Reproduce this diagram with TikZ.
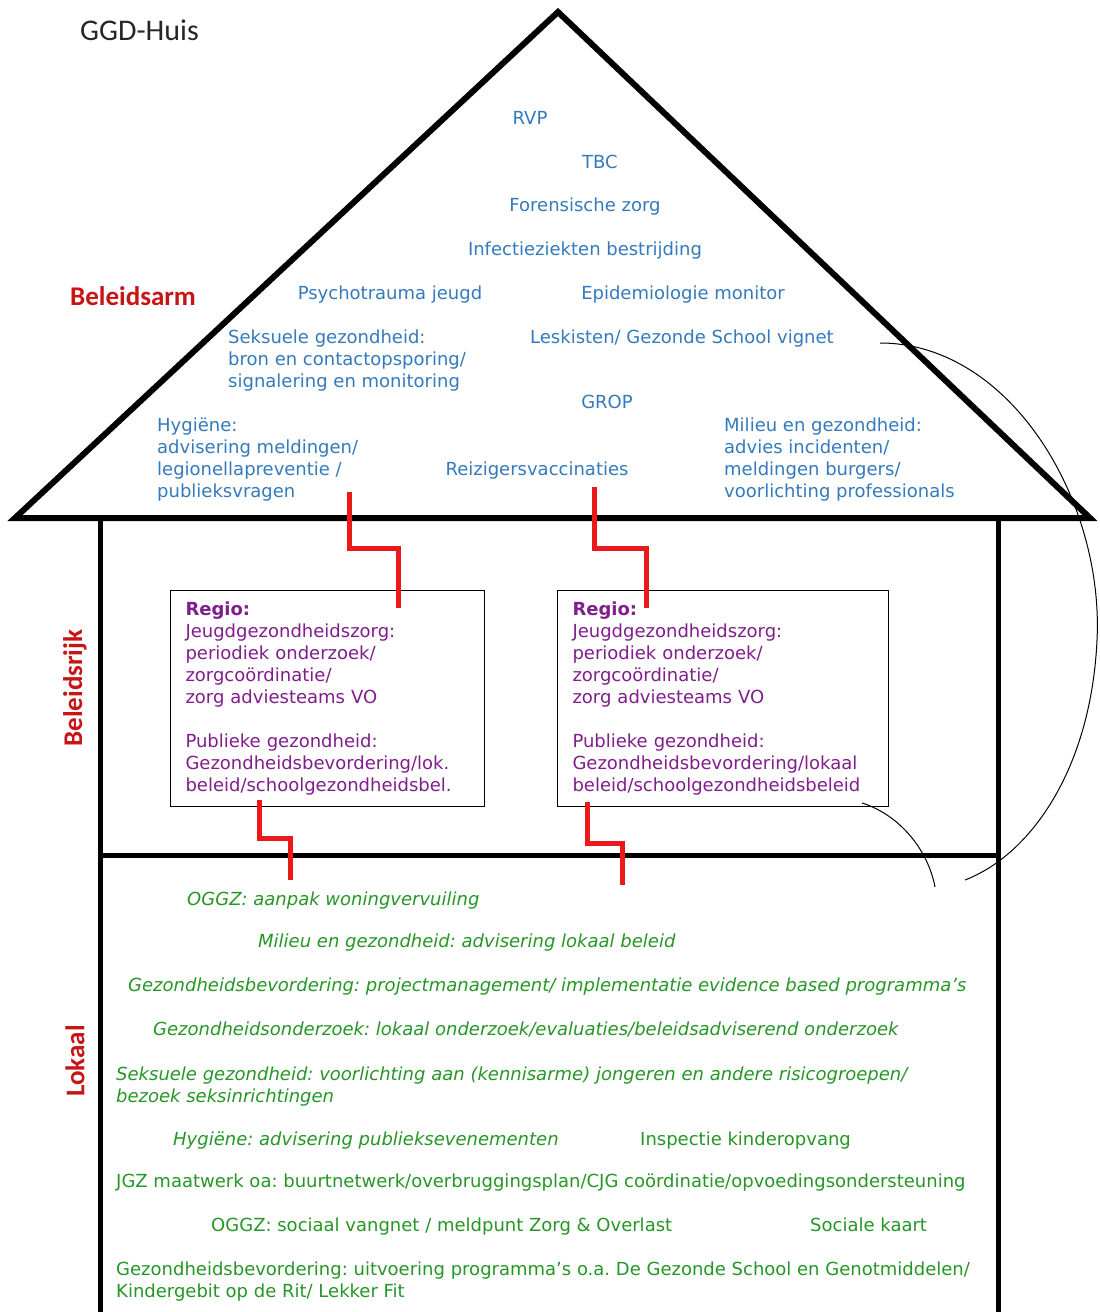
\documentclass[tikz,border=0pt]{standalone}
\usepackage{fontspec}
\setmainfont{DejaVu Sans}
\newfontfamily\labelfont{Carlito}
\usepackage{tikz}
\frenchspacing

\definecolor{roofblue}{RGB}{52,122,188}
\definecolor{regiopurple}{RGB}{128,30,140}
\definecolor{lokaalgreen}{RGB}{38,150,38}
\definecolor{layerred}{RGB}{200,20,20}
\definecolor{linkred}{RGB}{235,25,25}

\tikzset{
	wall/.style={line width=5pt},
	roofline/.style={line width=6pt, line join=miter},
	link/.style={draw=linkred, line width=5pt},
	bow/.style={line width=1pt},
	roof/.style={text=roofblue, inner sep=0pt, align=left, font=\fontsize{18}{22}\selectfont},
	lokaal/.style={text=lokaalgreen, inner sep=0pt, align=left, anchor=base west, font=\fontsize{18}{22}\selectfont},
	schuin/.style={lokaal, font=\fontsize{18}{22}\selectfont\itshape},
	layer/.style={text=layerred, inner sep=0pt, font=\labelfont\bfseries\fontsize{27}{27}\selectfont},
	regiobox/.style={draw, line width=1pt, anchor=north west, text=regiopurple, align=left,
		minimum width=314pt, minimum height=216pt, text width=284pt, inner xsep=15pt,
		font=\fontsize{18}{22}\selectfont},
}

\begin{document}
\begin{tikzpicture}[x=1pt, y=-1pt]

	\useasboundingbox[fill=white] (0,0) rectangle (1100,1312);

	% house
	\draw[roofline] (15,518) -- (558,12) -- (1090,518) -- cycle;
	\draw[wall] (100,518) -- (100,1312);
	\draw[wall] (998,518) -- (998,1312);
	\draw[wall] (100,855) -- (998,855);

	\node[anchor=base west, inner sep=0pt, font=\labelfont\fontsize{30}{30}\selectfont, text=black!85] (titel) at (80,40) {GGD-Huis};

	% layer labels
	\node[layer, anchor=base west] (arm) at (70,305) {Beleidsarm};
	\node[layer, rotate=90] (rijk) at (75,688) {Beleidsrijk};
	\node[layer, rotate=90] (lok) at (75,1061) {Lokaal};

	% roof (multi-line nodes: base = last line)
	\node[roof, anchor=base] (rvp) at (530,124) {RVP};
	\node[roof, anchor=base] (tbc) at (600,168) {TBC};
	\node[roof, anchor=base] (foren) at (585,211) {Forensische zorg};
	\node[roof, anchor=base] (infect) at (585,255) {Infectieziekten bestrijding};
	\node[roof, anchor=base] (psycho) at (390,299) {Psychotrauma jeugd};
	\node[roof, anchor=base] (epi) at (683,299) {Epidemiologie monitor};
	\node[roof, anchor=base west] (seks) at (228,387) {Seksuele gezondheid:\\bron en contactopsporing/\\signalering en monitoring};
	\node[roof, anchor=base west] (les) at (530,343) {Leskisten/ Gezonde School vignet};
	\node[roof, anchor=base] (grop) at (607,408) {GROP};
	\node[roof, anchor=base west] (hyg) at (157,497) {Hygiëne:\\advisering meldingen/\\legionellapreventie /\\publieksvragen};
	\node[roof, anchor=base] (reis) at (537,475) {Reizigersvaccinaties};
	\node[roof, anchor=base west] (milieu) at (724,497) {Milieu en gezondheid:\\advies incidenten/\\meldingen burgers/\\voorlichting professionals};

	% regio
	\node[regiobox] (regio1) at (170,590) {\textbf{Regio:}\\Jeugdgezondheidszorg:\\periodiek onderzoek/\\zorgcoördinatie/\\zorg adviesteams VO\\[22pt]Publieke gezondheid:\\Gezondheidsbevordering/lok.\\beleid/schoolgezondheidsbel.};
	\node[regiobox, minimum width=331pt, text width=301pt] (regio2) at (557,590) {\textbf{Regio:}\\Jeugdgezondheidszorg:\\periodiek onderzoek/\\zorgcoördinatie/\\zorg adviesteams VO\\[22pt]Publieke gezondheid:\\Gezondheidsbevordering/lokaal\\beleid/schoolgezondheidsbeleid};

	% lokaal
	\node[schuin] (oggz1) at (187,905) {OGGZ: aanpak woningvervuiling};
	\node[schuin] (milieu2) at (258,947) {Milieu en gezondheid: advisering lokaal beleid};
	\node[schuin] (gb1) at (128,991) {Gezondheidsbevordering: projectmanagement/ implementatie evidence based programma’s};
	\node[schuin] (go) at (153,1035) {Gezondheidsonderzoek: lokaal onderzoek/evaluaties/beleidsadviserend onderzoek};
	\node[schuin] (seks2) at (116,1102) {Seksuele gezondheid: voorlichting aan (kennisarme) jongeren en andere risicogroepen/\\bezoek seksinrichtingen};
	\node[schuin] (hyg2) at (173,1145) {Hygiëne: advisering publieksevenementen};
	\node[lokaal] (insp) at (640,1145) {Inspectie kinderopvang};
	\node[lokaal] (jgz) at (116,1187) {JGZ maatwerk oa: buurtnetwerk/overbruggingsplan/CJG coördinatie/opvoedingsondersteuning};
	\node[lokaal] (oggz2) at (211,1231) {OGGZ: sociaal vangnet / meldpunt Zorg \& Overlast};
	\node[lokaal] (kaart) at (810,1231) {Sociale kaart};
	\node[lokaal] (gb2) at (116,1297) {Gezondheidsbevordering: uitvoering programma’s o.a. De Gezonde School en Genotmiddelen/\\Kindergebit op de Rit/ Lekker Fit};

	% links between the layers
	\coordinate (l1a) at (349,492);
	\coordinate (l1b) at (398,608);
	\coordinate (l2a) at (594,487);
	\coordinate (l2b) at (646,608);
	\coordinate (l3a) at (259,800);
	\coordinate (l3b) at (290,880);
	\coordinate (l4a) at (587,802);
	\coordinate (l4b) at (622,885);
	\draw[link] (l1a) -- (l1a |- 0,548) -| (l1b);
	\draw[link] (l2a) -- (l2a |- 0,548) -| (l2b);
	\draw[link] (l3a) -- (l3a |- 0,838) -| (l3b);
	\draw[link] (l4a) -- (l4a |- 0,843) -| (l4b);

	% bows
	\coordinate (b1) at (880,343);
	\coordinate (b2) at (965,880);
	\coordinate (b3) at (862,803);
	\coordinate (b4) at (935,887);
	\draw[bow] (b1) .. controls (1010,343) and (1104,500) .. (1097,640) .. controls (1091,770) and (1030,855) .. (b2);
	\draw[bow] (b3) .. controls (900,815) and (928,850) .. (b4);

\end{tikzpicture}
\end{document}
